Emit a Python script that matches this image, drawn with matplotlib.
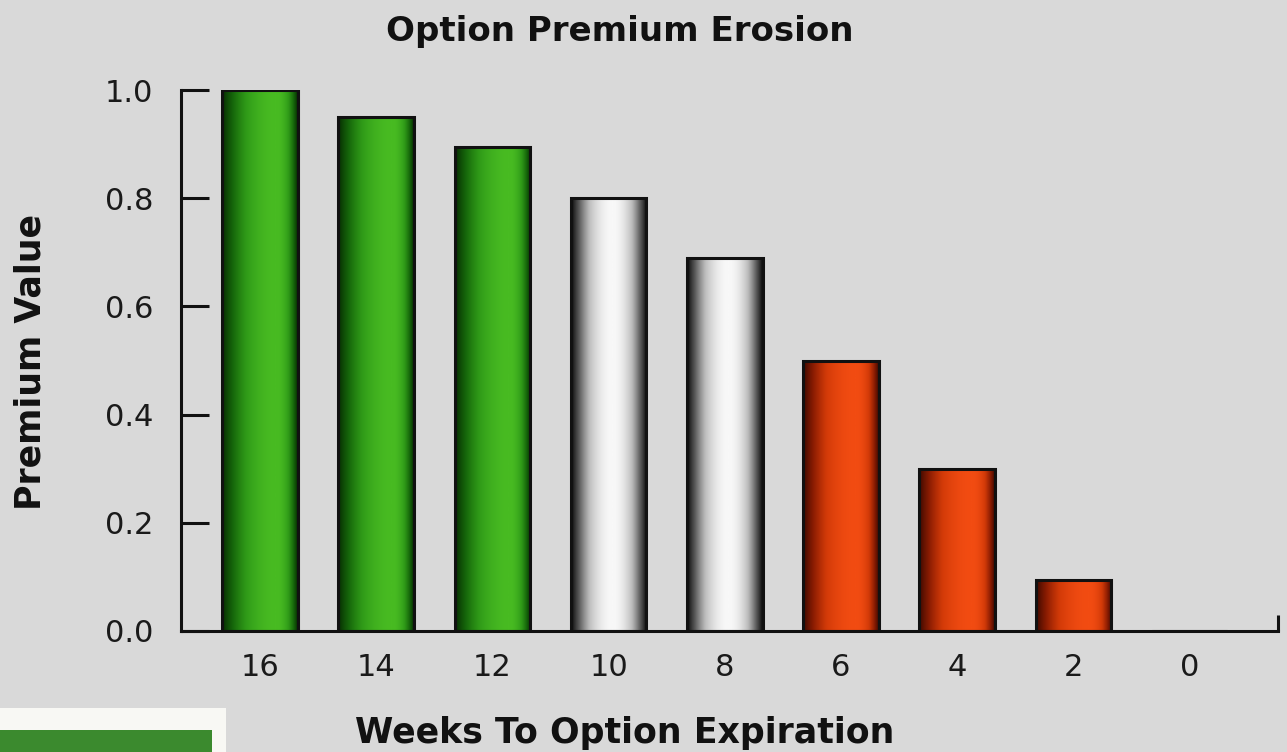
import numpy as np
import matplotlib
matplotlib.use("Agg")
import matplotlib.pyplot as plt
from matplotlib.colors import LinearSegmentedColormap
from matplotlib.patches import Rectangle

weeks = ["16", "14", "12", "10", "8", "6", "4", "2", "0"]
premium = [1.0, 0.95, 0.895, 0.80, 0.69, 0.50, 0.30, 0.095, 0.0]
groups = ["green", "green", "green", "silver", "silver", "red", "red", "red", "red"]
yticks = [0.0, 0.2, 0.4, 0.6, 0.8, 1.0]
title = "Option Premium Erosion"
xlabel = "Weeks To Option Expiration"
ylabel = "Premium Value"

bg = "#d9d9d9"
cmaps = {
    "green": LinearSegmentedColormap.from_list("g", ["#062a02", "#15650a", "#2f9a18", "#48bb22"]),
    "silver": LinearSegmentedColormap.from_list("s", ["#050505", "#5a5a5a", "#bdbdbd", "#f8f8f8"]),
    "red": LinearSegmentedColormap.from_list("r", ["#3a0800", "#8a1c02", "#d23a08", "#f24c12"]),
}
peaks = {"green": 0.72, "silver": 0.55, "red": 0.70}

fig = plt.figure(figsize=(12.87, 7.52), dpi=100, facecolor=bg)
ax = fig.add_axes([181/1287, 1-631/752, (1278-181)/1287, (631-90)/752])
ax.set_facecolor(bg)

x = np.arange(len(weeks))
bars = ax.bar(x, premium, width=0.65, color="none", edgecolor="#111111",
              linewidth=2.2, zorder=3)

u = np.linspace(0, 1, 256)
for b, g in zip(bars, groups):
    h = b.get_height()
    if h <= 0:
        continue
    p = peaks[g]
    uu = np.where(u < p, u / p * 0.5, 0.5 + (u - p) / (1 - p) * 0.5)
    prof = np.sin(np.pi * uu) ** 0.9
    img = prof[np.newaxis, :]
    im = ax.imshow(img, cmap=cmaps[g], vmin=0, vmax=1, aspect="auto",
                   extent=[b.get_x(), b.get_x() + b.get_width(), 0, h],
                   interpolation="bicubic", zorder=2)
    im.set_clip_path(b)

ax.set_xlim(-0.68, 8.76)
ax.set_ylim(0, 1.0)
ax.set_xticks(x)
ax.set_xticklabels(weeks)
ax.set_yticks(yticks)
ax.set_yticklabels([f"{v:.1f}" for v in yticks])
for s in ["top", "right"]:
    ax.spines[s].set_visible(False)
for s in ["left", "bottom"]:
    ax.spines[s].set_linewidth(2.2)
    ax.spines[s].set_color("#111111")
ax.tick_params(axis="y", direction="in", length=20, width=2.2, color="#111111",
               labelsize=22, pad=20, labelcolor="#1a1a1a")
ax.tick_params(axis="x", length=0, labelsize=22, pad=16, labelcolor="#1a1a1a")
ax.plot([1, 1], [0, 0.03], transform=ax.transAxes, color="#111111", lw=2.2,
        clip_on=False, solid_capstyle="butt")

fig.text(620/1287, 1-32/752, title, ha="center", va="center",
         fontsize=24.5, fontweight="bold", color="#111111")
fig.text(625/1287, 1-733/752, xlabel, ha="center", va="center",
         fontsize=25, fontweight="bold", color="#111111")
fig.text(31/1287, 1-362/752, ylabel, ha="center", va="center", rotation=90,
         fontsize=25, fontweight="bold", color="#111111")

fig.patches.append(Rectangle((0, 0), 226/1287, 44/752, transform=fig.transFigure,
                             facecolor="#f8f8f4", edgecolor="none", zorder=0))
fig.patches.append(Rectangle((0, 0), 212/1287, 22/752, transform=fig.transFigure,
                             facecolor="#3b8a2e", edgecolor="none", zorder=1))

fig.savefig("out.png", dpi=100, facecolor=bg)
